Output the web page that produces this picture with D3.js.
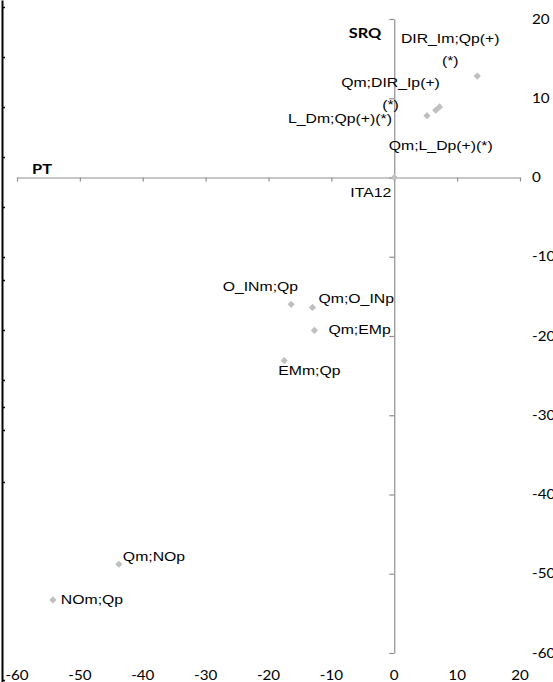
<!DOCTYPE html>
<html>
<head>
<meta charset="utf-8">
<script src="https://cdn.jsdelivr.net/npm/d3@7"></script>
<style>
  body { margin: 0; background: #fff; }
  svg { display: block; }
</style>
</head>
<body>
<div id="chart"></div>
<script>
const width = 553, height = 682;

// data
const names = ["ITA12", "DIR_Im;Qp(+)(*)", "Qm;DIR_Ip(+)(*)", "L_Dm;Qp(+)(*)", "Qm;L_Dp(+)(*)",
  "O_INm;Qp", "Qm;O_INp", "Qm;EMp", "EMm;Qp", "Qm;NOp", "NOm;Qp"];
const ptValues = [0, 13.2, 7.2, 5.2, 6.6, -16.4, -13.0, -12.7, -17.5, -43.8, -54.3];
const srqValues = [0, 12.8, 8.9, 7.8, 8.5, -16.0, -16.4, -19.3, -23.1, -48.8, -53.3];
const xTicks = [-60, -50, -40, -30, -20, -10, 0, 10, 20];
const yTicks = [20, 10, 0, -10, -20, -30, -40, -50, -60];

// label placement (pixel offsets from the point), as moved by hand in the original
const labelLayout = {
  "ITA12": { lines: ["ITA12"], dx: -3, dy: 19, anchor: "end" },
  "DIR_Im;Qp(+)(*)": { lines: ["DIR_Im;Qp(+)", "(*)"], dx: -27, dy: -33, anchor: "middle" },
  "Qm;DIR_Ip(+)(*)": { lines: ["Qm;DIR_Ip(+)", "(*)"], dx: -49, dy: -20, anchor: "middle" },
  "L_Dm;Qp(+)(*)": { lines: ["L_Dm;Qp(+)(*)"], dx: -35, dy: 7, anchor: "end" },
  "Qm;L_Dp(+)(*)": { lines: ["Qm;L_Dp(+)(*)"], dx: -47, dy: 40, anchor: "start" },
  "O_INm;Qp": { lines: ["O_INm;Qp"], dx: 7, dy: -13, anchor: "end" },
  "Qm;O_INp": { lines: ["Qm;O_INp"], dx: 6, dy: -4, anchor: "start" },
  "Qm;EMp": { lines: ["Qm;EMp"], dx: 14, dy: 4, anchor: "start" },
  "EMm;Qp": { lines: ["EMm;Qp"], dx: -6, dy: 14, anchor: "start" },
  "Qm;NOp": { lines: ["Qm;NOp"], dx: 4, dy: -3, anchor: "start" },
  "NOm;Qp": { lines: ["NOm;Qp"], dx: 8, dy: 4, anchor: "start" }
};

const data = names.map((n, i) => ({ name: n, pt: ptValues[i], srq: srqValues[i] }));

const stretch = 1.17; // the source picture is wider than tall
const axisColor = "#8f8f8f";
const pointColor = "#bfbfbf";

const svg = d3.select("#chart").append("svg")
  .attr("width", width)
  .attr("height", height);

const x = d3.scaleLinear().domain([-60, 20]).range([17, 520]);
const y = d3.scaleLinear().domain([-60, 20]).range([653, 19]);

// cut-off edge of a neighbouring chart on the far left
const edge = d3.scaleLinear().domain([0, height]).range([0, height]);
const edgeG = svg.append("g").attr("transform", "translate(2,0)")
  .call(d3.axisRight(edge).tickValues([7, 57, 107, 157, 207, 257, 280, 330, 380, 407, 430, 482, 680])
    .tickSize(3).tickFormat("").tickSizeOuter(0));
edgeG.select(".domain").attr("stroke", "#000").attr("stroke-width", 2);
edgeG.selectAll(".tick line").attr("stroke", "#000").attr("stroke-width", 1.5);

// horizontal axis through 0
const xAxisG = svg.append("g")
  .attr("transform", `translate(0,${y(0)})`)
  .call(d3.axisBottom(x).tickValues(xTicks).tickSize(4).tickSizeOuter(0).tickFormat(""));
xAxisG.select(".domain").attr("stroke", axisColor).attr("stroke-width", 1.2);
xAxisG.selectAll(".tick line").attr("stroke", axisColor).attr("stroke-width", 1.2);

// vertical axis through 0
const yAxisG = svg.append("g")
  .attr("transform", `translate(${x(0)},0)`)
  .call(d3.axisLeft(y).tickValues(yTicks).tickSize(5).tickSizeOuter(0).tickFormat(""));
yAxisG.select(".domain").attr("stroke", axisColor).attr("stroke-width", 1.2);
yAxisG.selectAll(".tick line").attr("stroke", axisColor).attr("stroke-width", 1.2);

const tickFont = "Lato, 'Open Sans', sans-serif";

// x tick labels along the bottom
svg.append("g").selectAll("text")
  .data(xTicks)
  .join("text")
  .attr("transform", d => `translate(${x(d)},680) scale(${stretch},1)`)
  .attr("text-anchor", "middle")
  .attr("font-family", tickFont)
  .attr("font-size", 13)
  .attr("fill", "#000")
  .text(d => d);

// y tick labels on the right (cut by the edge, as in the original)
svg.append("g").selectAll("text")
  .data(yTicks)
  .join("text")
  .attr("transform", d => `translate(532,${y(d)}) scale(${stretch},1)`)
  .attr("dy", "0.35em")
  .attr("font-family", tickFont)
  .attr("font-size", 13)
  .attr("fill", "#000")
  .text(d => d);

// axis titles
svg.append("text")
  .attr("transform", `translate(365,38) scale(${stretch},1)`)
  .attr("text-anchor", "middle")
  .attr("font-family", tickFont)
  .attr("font-weight", "bold")
  .attr("font-size", 14)
  .text("SRQ");
svg.append("text")
  .attr("transform", `translate(42,174) scale(${stretch},1)`)
  .attr("text-anchor", "middle")
  .attr("font-family", tickFont)
  .attr("font-weight", "bold")
  .attr("font-size", 14)
  .text("PT");

// points: square turned 45 degrees, like the Excel diamond marker
svg.append("g").selectAll("path")
  .data(data)
  .join("path")
  .attr("transform", d => `translate(${x(d.pt)},${y(d.srq)}) rotate(45)`)
  .attr("d", d3.symbol(d3.symbolSquare, 26))
  .attr("fill", pointColor);

// data labels
const labels = svg.append("g")
  .attr("font-family", "'Liberation Sans', Arial, sans-serif")
  .attr("font-size", 13.5)
  .attr("fill", "#000")
  .selectAll("text")
  .data(data)
  .join("text")
  .attr("text-anchor", d => labelLayout[d.name].anchor)
  .attr("transform", d => {
    const l = labelLayout[d.name];
    return `translate(${x(d.pt) + l.dx},${y(d.srq) + l.dy}) scale(${stretch},1)`;
  });
labels.selectAll("tspan")
  .data(d => labelLayout[d.name].lines)
  .join("tspan")
  .attr("x", 0)
  .attr("dy", (d, i) => i === 0 ? 0 : 22)
  .text(d => d);
</script>
</body>
</html>
